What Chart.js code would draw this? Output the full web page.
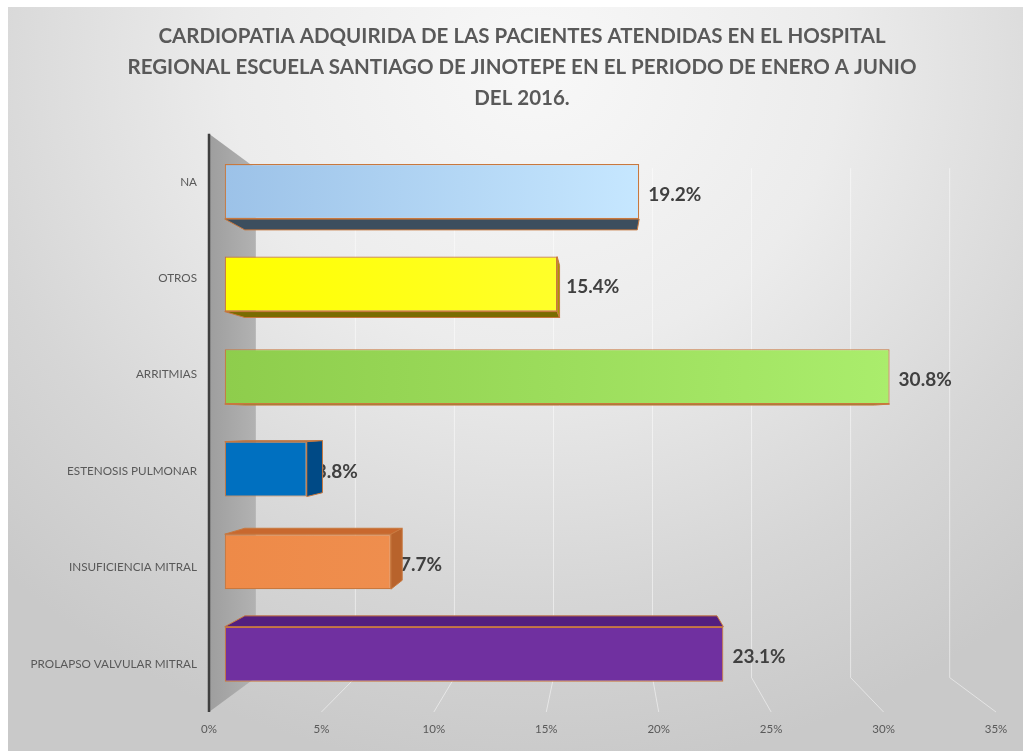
<!DOCTYPE html>
<html>
<head>
<meta charset="utf-8">
<script src="https://cdn.jsdelivr.net/npm/chart.js@4/dist/chart.umd.min.js"></script>
<style>
html,body{margin:0;padding:0;background:#fff;}
#wrap{position:absolute;left:0;top:0;width:1023px;height:751px;background:#fff;}
#bg{position:absolute;left:8px;top:7px;width:1015px;height:744px;
 background:radial-gradient(ellipse 75% 95% at 52% 8%, #f8f8f8 0%, #ececec 40%, #d6d6d6 75%, #c9c9c9 100%);}
canvas{position:absolute;left:0;top:0;}
</style>
</head>
<body>
<div id="wrap"><div id="bg"></div><canvas id="c" width="1023" height="751"></canvas></div>
<script>
// ---- data ----
const categories = ['NA', 'OTROS', 'ARRITMIAS', 'ESTENOSIS PULMONAR', 'INSUFICIENCIA MITRAL', 'PROLAPSO VALVULAR MITRAL'];
const percentages = [19.2, 15.4, 30.8, 3.8, 7.7, 23.1];
const xTickValues = [0, 5, 10, 15, 20, 25, 30, 35];
const titleLines = ['CARDIOPATIA ADQUIRIDA DE LAS PACIENTES ATENDIDAS EN EL HOSPITAL',
                    'REGIONAL ESCUELA SANTIAGO DE JINOTEPE EN EL PERIODO DE ENERO A JUNIO',
                    'DEL 2016.'];

// ---- styles ----
const FONT = 'Lato, "Open Sans", sans-serif';
const frontLeft  = ['#9cc2e8', '#ffff00', '#8ecd4c', '#0070c0', '#ee8a48', '#7030a0'];
const frontRight = ['#c6e7ff', '#ffff2a', '#aaed6c', '#0070c0', '#ef8e4e', '#7030a0'];
const topFace    = ['#6d8fb0', '#c8b800', '#6fa03a', '#005a9e', '#c8682e', '#531f7f'];
const bottomFace = ['#3c4e5e', '#7a6c00', '#5a8a2a', '#003d70', '#a85a28', '#4a1a70'];
const sideFace   = ['#5a7d9e', '#a99800', '#6a9a35', '#004a86', '#b8632c', '#4c1c75'];
const edgeColor  = '#c8783e';

// perspective parameters (relative to the axis plane, vanishing point = chart area centre)
const K_BAR_FRONT = 0.96, K_BAR_BACK = 0.909, K_WALL = 0.881;
const XMAX = 35;
const N = categories.length;
const xbMin = -0.5 * (1 - K_BAR_FRONT) * XMAX / K_BAR_FRONT;
const xbMax = xbMin + XMAX / K_BAR_FRONT;
const ybHalf = (N / 2) / K_BAR_FRONT;
const ybMin = (N - 1) / 2 - ybHalf, ybMax = (N - 1) / 2 + ybHalf;

function vp(chart){const a=chart.chartArea;return {x:(a.left+a.right)/2,y:(a.top+a.bottom)/2};}
function proj(V,k,x,y){return [V.x+k*(x-V.x), V.y+k*(y-V.y)];}
function poly(ctx,pts,fill,stroke){ctx.beginPath();ctx.moveTo(pts[0][0],pts[0][1]);for(let i=1;i<pts.length;i++)ctx.lineTo(pts[i][0],pts[i][1]);ctx.closePath();if(fill){ctx.fillStyle=fill;ctx.fill();}if(stroke){ctx.strokeStyle=stroke;ctx.lineWidth=1;ctx.stroke();}}

const scene = {
  id: 'scene',
  beforeDatasetsDraw(chart){
    const ctx = chart.ctx, a = chart.chartArea, V = vp(chart), xs = chart.scales.x;
    ctx.save();
    // back wall grid + floor lines
    const [, bTop] = proj(V, K_WALL, 0, a.top);
    const [, bBot] = proj(V, K_WALL, 0, a.bottom);
    xTickValues.forEach(v => {
      if (v === 0) return;
      const px = xs.getPixelForValue(v);
      const [bx] = proj(V, K_WALL, px, 0);
      ctx.strokeStyle = 'rgba(255,255,255,0.5)';
      ctx.lineWidth = 1;
      ctx.beginPath();
      ctx.moveTo(bx + 0.5, bTop); ctx.lineTo(bx + 0.5, bBot); ctx.lineTo(px, a.bottom);
      ctx.stroke();
    });
    // left side wall
    const L = a.left;
    const [wx] = proj(V, K_WALL, L, 0);
    const g = ctx.createLinearGradient(L, 0, wx, 0);
    g.addColorStop(0, '#9e9e9e'); g.addColorStop(1, '#b2b2b2');
    poly(ctx, [[L, a.top], [wx, bTop], [wx, bBot], [L, a.bottom]], g);
    ctx.strokeStyle = '#3f3f3f'; ctx.lineWidth = 2.5;
    ctx.beginPath(); ctx.moveTo(L, a.top); ctx.lineTo(L, a.bottom); ctx.stroke();

    // value labels (drawn before the bar sides, like the original)
    const meta = chart.getDatasetMeta(0);
    ctx.font = 'bold 19px ' + FONT;
    ctx.fillStyle = '#404040'; ctx.textBaseline = 'middle'; ctx.textAlign = 'left';
    meta.data.forEach((bar, i) => {
      ctx.fillText(percentages[i].toFixed(1) + '%', bar.x + 9, bar.y + 3);
    });

    // bar side faces
    const s = K_BAR_BACK / K_BAR_FRONT;
    meta.data.forEach((bar, i) => {
      const x0 = Math.min(bar.base, bar.x), x1 = Math.max(bar.base, bar.x);
      const y0 = bar.y - bar.height / 2, y1 = bar.y + bar.height / 2;
      const F = {tl:[x0,y0], tr:[x1,y0], br:[x1,y1], bl:[x0,y1]};
      const B = {}; for (const k in F) B[k] = proj(V, s, F[k][0], F[k][1]);
      if (V.y < y0) poly(ctx, [F.tl, F.tr, B.tr, B.tl], topFace[i], edgeColor);
      if (V.y > y1) poly(ctx, [F.bl, F.br, B.br, B.bl], bottomFace[i], edgeColor);
      if (V.x > x1) poly(ctx, [F.tr, F.br, B.br, B.tr], sideFace[i], edgeColor);
      if (V.x < x0) poly(ctx, [F.tl, F.bl, B.bl, B.tl], sideFace[i], edgeColor);
    });
    ctx.restore();
  }
};

new Chart(document.getElementById('c'), {
  type: 'bar',
  plugins: [scene],
  data: {
    labels: categories,
    datasets: [{
      data: percentages.map((v, i) => ({x: v, y: i})),
      xAxisID: 'xb', yAxisID: 'yb',
      backgroundColor: (c) => {
        const i = c.dataIndex === undefined ? 0 : c.dataIndex;
        const ch = c.chart, xb = ch.scales.xb;
        if (!xb || !ch.chartArea) return frontLeft[i];
        const p0 = xb.getPixelForValue(0), p1 = xb.getPixelForValue(percentages[i]);
        if (!isFinite(p0) || !isFinite(p1)) return frontLeft[i];
        const g = ch.ctx.createLinearGradient(p0, 0, p1, 0);
        g.addColorStop(0, frontLeft[i]); g.addColorStop(1, frontRight[i]);
        return g;
      },
      borderColor: edgeColor,
      borderWidth: 1.2,
      borderSkipped: false,
      categoryPercentage: 0.594,
      barPercentage: 1
    }]
  },
  options: {
    indexAxis: 'y',
    responsive: false,
    animation: false,
    devicePixelRatio: 1,
    layout: {padding: {left: 21, right: 0, top: 0, bottom: 0}},
    plugins: {
      legend: {display: false},
      tooltip: {enabled: false},
      title: {
        display: true,
        text: titleLines,
        color: '#595959',
        font: {family: FONT, size: 20.5, weight: 'bold', lineHeight: 1.5},
        padding: {top: 21.5, bottom: 20}
      }
    },
    scales: {
      x: {
        type: 'linear', position: 'bottom', min: 0, max: XMAX, offset: false,
        grid: {display: false, drawTicks: false},
        border: {display: false},
        afterBuildTicks: (s) => { s.ticks = xTickValues.map(v => ({value: v})); },
        afterFit: (s) => { s.height = 39; },
        ticks: {color: '#595959', padding: 10, font: {family: FONT, size: 11.5},
                callback: (v) => v + '%', maxRotation: 0}
      },
      y: {
        type: 'category', position: 'left', offset: true,
        grid: {display: false, drawTicks: false},
        border: {display: false},
        afterFit: (s) => { s.width = 188; },
        ticks: {color: '#595959', padding: 12, font: {family: FONT, size: 11.7}}
      },
      yr: {
        type: 'category', position: 'right', offset: true,
        grid: {display: false, drawTicks: false},
        border: {display: false},
        ticks: {display: false},
        afterFit: (s) => { s.width = 27; }
      },
      xb: {type: 'linear', display: false, offset: false, min: xbMin, max: xbMax},
      yb: {type: 'linear', display: false, offset: false, reverse: true, min: ybMin, max: ybMax,
           afterBuildTicks: (s) => { s.ticks = categories.map((_, i) => ({value: i})); }}
    }
  }
});
</script>
</body>
</html>
